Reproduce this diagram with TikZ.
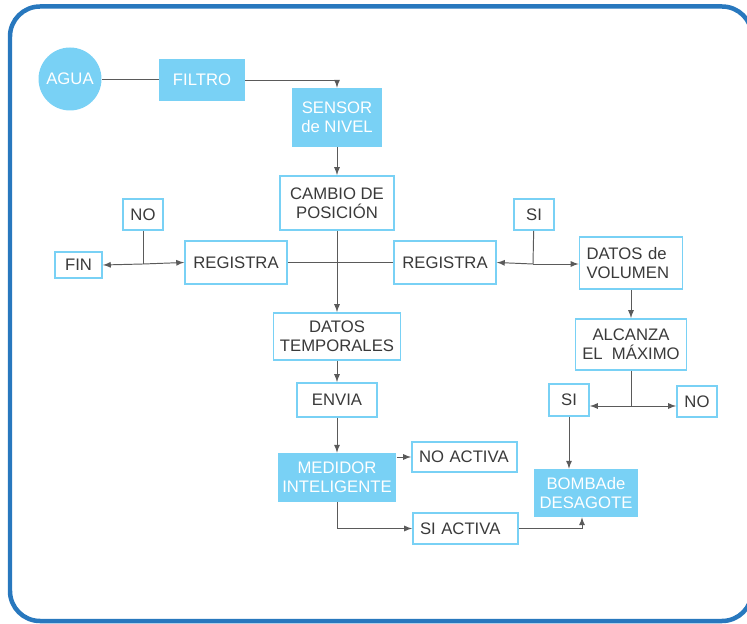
\documentclass[tikz,border=0pt]{standalone}
\usepackage{fontspec}
\setmainfont{Liberation Sans}
\usetikzlibrary{shapes,arrows,positioning}
\definecolor{frameblue}{HTML}{2878BE}
\definecolor{lightblue}{HTML}{79D1F5}
\definecolor{ink}{HTML}{3A3A3A}
\definecolor{linegray}{HTML}{5A5A5A}
\tikzset{
  main/.style={circle, minimum size = 12.6mm, fill=lightblue, text=white, inner sep=0pt},
  fillbox/.style={rectangle, fill=lightblue, text=white, align=center, inner sep=1pt},
  box/.style={rectangle, draw=lightblue, line width=1.1pt, fill=white, text=ink, align=center, inner sep=1pt},
  lbox/.style={box, align=left, inner xsep=1.4mm},
  connect/.style={-latex, draw=linegray, line width=0.55pt},
  link/.style={draw=linegray, line width=0.55pt}
}

\begin{document}
\begin{tikzpicture}[x=0.02cm, y=-0.02cm, font=\fontsize{9.5}{10.6}\selectfont]
  \clip (0,0) rectangle (747,624);
  \useasboundingbox (0,0) rectangle (747,624);
  \draw[frameblue, line width=0.09cm, rounded corners=0.6cm] (10,6.5) rectangle (752,621);

  % water path
  \node[main] (agua) at (70,79) {AGUA};
  \node[fillbox, minimum width=17.2mm, minimum height=8.4mm] (filtro) at (202,80) {FILTRO};
  \node[fillbox, minimum width=18mm, minimum height=11.8mm] (sensor) at (337,117.5) {SENSOR\\de NIVEL};
  \node[box, minimum width=22.8mm, minimum height=10.8mm] (cambio) at (337,203) {CAMBIO DE\\POSICIÓN};

  % left branch
  \node[box, minimum width=8mm, minimum height=6.2mm] (no1) at (143,214.5) {NO};
  \node[box, minimum width=9.4mm, minimum height=5.2mm] (fin) at (78.5,265) {FIN};
  \node[box, minimum width=20.4mm, minimum height=8.6mm] (reg1) at (236,262.5) {REGISTRA};
  \node[box, minimum width=20.4mm, minimum height=8.6mm] (reg2) at (445,262.5) {REGISTRA};

  % right branch
  \node[box, minimum width=8mm, minimum height=6.2mm] (si1) at (534,214.5) {SI};
  \node[lbox, text width=17.8mm, minimum height=10.4mm] (vol) at (631,263) {DATOS de\\VOLUMEN};
  \node[box, minimum width=22.2mm, minimum height=10.2mm] (alc) at (631,344.5) {ALCANZA\\EL~~MÁXIMO};
  \node[box, minimum width=8mm, minimum height=6.4mm] (si2) at (569,400) {SI};
  \node[box, minimum width=8mm, minimum height=6.2mm] (no2) at (697,401.5) {NO};
  \node[fillbox, minimum width=20.8mm, minimum height=9.6mm] (bomba) at (586,493) {BOMBAde\\DESAGOTE};

  % middle column
  \node[box, minimum width=25.4mm, minimum height=9.4mm] (datos) at (337,336.5) {DATOS\\TEMPORALES};
  \node[box, minimum width=16mm, minimum height=6.8mm] (envia) at (337,400) {ENVIA};
  \node[fillbox, minimum width=23.8mm, minimum height=9.8mm] (medidor) at (337,477.5) {MEDIDOR\\INTELIGENTE};
  \node[lbox, text width=18.2mm, minimum height=6mm] (noact) at (464.5,457) {NO ACTIVA};
  \node[lbox, text width=18.2mm, minimum height=6.2mm] (siact) at (465.5,528.5) {SI ACTIVA};

  \coordinate (j1) at (143,264);
  \coordinate (j2) at (533,264);
  \coordinate (j3) at (631,406);

  \draw[link] (agua.east) -- (agua.east -| filtro.west);
  \draw[connect] (filtro.east) -| (sensor.north);
  \draw[connect] (sensor) -- (cambio);
  \draw[connect] (cambio) -- (datos);
  \draw[link] (reg1.east) -- (reg2.west);
  \draw[link] (no1) -- (j1);
  \draw[connect] (j1) -- (fin.east);
  \draw[connect] (j1) -- (reg1.west);
  \draw[link] (si1) -- (j2);
  \draw[connect] (j2) -- (reg2.east);
  \draw[connect] (j2) -- (vol.west |- j2);
  \draw[connect] (vol) -- (alc);
  \draw[link] (alc) -- (j3);
  \draw[connect] (j3) -- (j3 -| si2.east);
  \draw[connect] (j3) -- (j3 -| no2.west);
  \draw[connect] (si2.south) -- (si2.south |- bomba.north);
  \draw[connect] (datos) -- (envia);
  \draw[connect] (envia) -- (medidor);
  \draw[connect] (medidor.east |- noact.west) -- (noact.west);
  \draw[connect] (medidor.south) |- (siact.west);
  \draw[connect] (siact.east) -| ([xshift=-0.08cm]bomba.south);

\end{tikzpicture}
\end{document}
